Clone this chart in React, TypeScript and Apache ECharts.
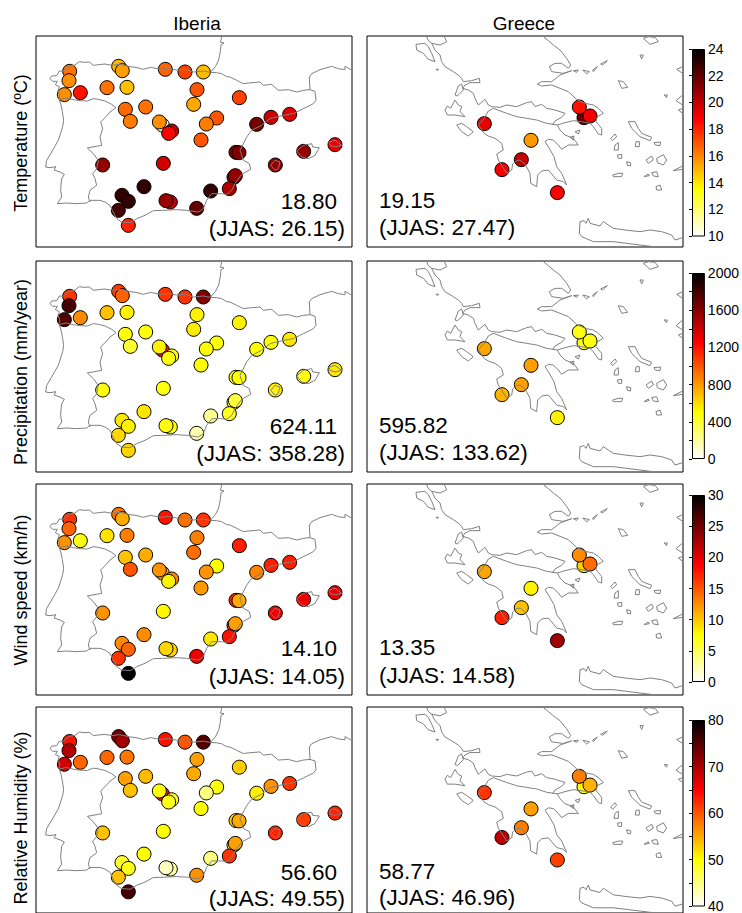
import React, { useEffect, useRef } from "react";
import * as echarts from "echarts";

const FONT = "'Liberation Sans', Arial, sans-serif";
const HOT = ["#ffffff", "#ffff80", "#ffff00", "#ffaa00", "#ff5500", "#ff0000", "#aa0000", "#550000", "#000000"];

const columns = ["Iberia", "Greece"];
const rowLabels = ["Temperature (ºC)", "Precipitation (mm/year)", "Wind speed (km/h)", "Relative Humidity (%)"];
const scaleMin = [10, 0, 0, 40];
const scaleMax = [24, 2000, 30, 80];
const minorStep = [2, 200, 5, 5];
const majorStep = [2, 400, 5, 10];

const iberiaMeans = ["18.80", "624.11", "14.10", "56.60"];
const iberiaSummer = ["(JJAS: 26.15)", "(JJAS: 358.28)", "(JJAS: 14.05)", "(JJAS: 49.55)"];
const greeceMeans = ["19.15", "595.82", "13.35", "58.77"];
const greeceSummer = ["(JJAS: 27.47)", "(JJAS: 133.62)", "(JJAS: 14.58)", "(JJAS: 46.96)"];

// station locations, in map units of each panel
const iberiaStations = [
  [119, 184], [117, 212], [103, 254], [151, 248], [266, 169], [277, 182], [231, 233], [291, 232], [406, 178], [465, 186],
  [520, 186], [501, 239], [491, 283], [628, 263], [286, 298], [347, 291], [301, 334], [397, 345], [425, 363], [388, 336],
  [416, 370], [560, 324], [529, 342], [513, 390], [680, 343], [723, 322], [779, 313], [915, 404], [821, 424], [736, 465],
  [618, 427], [627, 428], [218, 465], [400, 460], [612, 502], [616, 497], [598, 536], [542, 543], [342, 530], [276, 556],
  [295, 574], [265, 601], [421, 576], [408, 572], [500, 595], [295, 646],
];
const iberiaTemperature = [16.4, 15.8, 15.8, 18.4, 15, 15.5, 16.4, 14.8, 16.7, 17.4, 14.9, 17, 15.3, 17.4, 16.6, 16.4, 16.2, 10.3, 20.1, 15.8, 18.8, 17, 16.2, 17, 21.6, 19.8, 19.3, 19.1, 21, 21, 21.6, 21.3, 21, 19.7, 20.6, 21, 20.4, 23, 23, 23, 23, 22.6, 20.1, 20.8, 21.9, 18.1];
const iberiaPrecipitation = [1100, 1800, 1750, 840, 1080, 960, 680, 540, 1100, 1100, 1620, 540, 560, 540, 480, 480, 400, 1200, 440, 540, 470, 470, 510, 500, 500, 480, 570, 570, 480, 540, 480, 480, 470, 470, 400, 380, 440, 220, 580, 570, 540, 620, 500, 470, 160, 620];
const iberiaWind = [16.5, 14.4, 12.3, 7, 13.8, 11.2, 8.7, 13.2, 18, 13.8, 16.5, 13.2, 14, 17.4, 10.2, 11.2, 15, 11.5, 13, 12.3, 8, 7.5, 12.3, 12, 13, 17.4, 17.4, 19.5, 19.5, 19.5, 17.4, 11.2, 12.3, 7.8, 17, 11.7, 18, 8.5, 12.6, 12.6, 14.4, 16.5, 9.5, 9.3, 19.5, 30];
const iberiaHumidity = [64, 69.6, 67.6, 59, 73, 70.8, 59, 58, 64, 60, 75, 55.6, 55, 53, 55.6, 54, 53.6, 64, 48, 50, 49, 49.5, 45, 50, 51, 56.4, 62, 63, 61.4, 63, 53, 55, 53.6, 50, 51, 55.6, 62, 45, 50, 48.5, 49, 53.6, 43.5, 42.5, 56.4, 76];

const greeceStations = [[373, 341], [513, 391], [484, 449], [426, 479], [592, 548], [672, 323], [658, 291], [690, 318]];
const greeceTemperature = [19.2, 15.6, 20, 19, 18.8, 21.9, 18.4, 19];
const greecePrecipitation = [760, 780, 780, 720, 540, 440, 460, 470];
const greeceWind = [11.4, 8, 10.2, 17.4, 22.8, 9.6, 12.6, 14];
const greeceHumidity = [62, 55.6, 57.6, 68.8, 61.2, 50, 57.6, 54.4];

const iberiaCoast = [
  // Atlantic France, north coast, Galicia, Portugal, south and east coast
  [[575, 78], [573, 92], [570, 96], [582, 99], [573, 104], [571, 125], [566, 150], [556, 170], [547, 180], [541, 187], [520, 183], [490, 186], [465, 178], [440, 180], [415, 175], [390, 178], [362, 172], [340, 178], [318, 172], [300, 170], [270, 163], [245, 166], [225, 162], [205, 164], [190, 166], [178, 156], [162, 157], [148, 155], [135, 165], [120, 168], [108, 175], [100, 184], [88, 183], [80, 197], [65, 198], [60, 206], [68, 214], [82, 214], [76, 224], [88, 230], [84, 242], [90, 255], [87, 266], [93, 285], [97, 305], [101, 331], [98, 350], [85, 391], [74, 410], [62, 431], [50, 451], [47, 471], [60, 473], [78, 470], [72, 480], [90, 486], [103, 493], [95, 506], [93, 525], [92, 541], [95, 561], [82, 581], [110, 579], [140, 581], [170, 579], [180, 571], [210, 571], [225, 576], [240, 586], [247, 601], [260, 626], [275, 636], [300, 638], [320, 626], [345, 616], [370, 602], [400, 601], [440, 599], [470, 601], [505, 606], [520, 596], [530, 571], [545, 551], [575, 551], [590, 553], [605, 541], [615, 521], [635, 493], [662, 478], [658, 461], [640, 451], [635, 436], [630, 421], [650, 381], [665, 361], [695, 346], [720, 326], [760, 316], [790, 311], [820, 296], [850, 281], [858, 271], [855, 244], [840, 239], [838, 201], [845, 191], [870, 179], [905, 169], [925, 176], [945, 179], [945, 169], [966, 181]],
  // Pyrenees
  [[541, 187], [560, 188], [575, 191], [590, 200], [600, 201], [620, 211], [640, 221], [655, 219], [690, 216], [700, 226], [725, 223], [745, 241], [775, 239], [800, 246], [820, 241], [840, 239]],
  // Portuguese border
  [[89, 268], [110, 264], [130, 269], [150, 272], [172, 273], [190, 266], [205, 268], [225, 273], [245, 283], [258, 293], [240, 306], [225, 323], [212, 336], [218, 356], [210, 381], [215, 406], [172, 414], [190, 431], [205, 451], [200, 476], [188, 491], [195, 506], [200, 526], [180, 541], [175, 561], [180, 576]],
  // Balearic islands
  [[800, 423], [820, 406], [845, 401], [848, 411], [868, 413], [855, 436], [835, 446], [815, 441], [800, 423]],
  [[897, 396], [915, 391], [935, 406], [915, 411], [900, 406], [897, 396]],
  [[722, 466], [735, 451], [750, 456], [745, 476], [735, 481], [722, 466]],
];

const greeceCoast = [
  // western mainland and north shore of the gulf
  [[200, 80], [205, 92], [215, 100], [225, 120], [240, 135], [245, 155], [255, 170], [280, 185], [295, 195], [305, 205], [310, 215], [335, 212], [358, 205], [360, 218], [330, 218], [315, 225], [308, 235], [325, 240], [340, 250], [345, 265], [355, 285], [375, 268], [385, 285], [395, 290], [420, 292], [440, 285], [470, 290], [500, 278], [515, 275], [525, 290], [545, 283], [560, 295], [585, 300], [615, 310], [605, 322], [585, 333], [577, 345]],
  [[240, 105], [260, 95], [252, 78]],
  [[215, 100], [240, 105]],
  // Peloponnese
  [[355, 345], [372, 370], [385, 378], [405, 385], [425, 400], [430, 420], [410, 432], [415, 450], [440, 490], [455, 480], [458, 462], [470, 452], [480, 450], [495, 462], [510, 490], [512, 520], [530, 530], [533, 495], [545, 483], [565, 480], [590, 510], [610, 515], [620, 525], [605, 490], [590, 470], [582, 440], [565, 410], [555, 395], [565, 388], [580, 390], [595, 405], [605, 418], [625, 405], [655, 405], [640, 385], [615, 375], [600, 360], [592, 345], [560, 340], [530, 330], [500, 325], [470, 320], [440, 310], [400, 295], [385, 303], [372, 325], [355, 345]],
  // Attica, Evia and the north-east mainland
  [[592, 345], [615, 338], [640, 332], [665, 335], [690, 340], [700, 350], [715, 372], [725, 375], [725, 355], [708, 335], [712, 320], [730, 310], [715, 295], [700, 285], [675, 280], [650, 268], [625, 245], [600, 235], [575, 225], [545, 228], [532, 222], [545, 215], [575, 215], [600, 195], [635, 182], [610, 190], [575, 185], [568, 170], [585, 160], [605, 160], [625, 175], [632, 165], [620, 145], [600, 120], [580, 105], [565, 92], [550, 80]],
  // islands of the Ionian sea
  [[168, 103], [195, 100], [205, 110], [215, 130], [225, 155], [205, 148], [190, 130], [170, 120], [168, 103]],
  [[255, 300], [262, 288], [272, 295], [285, 270], [295, 285], [305, 290], [300, 305], [315, 320], [285, 315], [262, 315], [255, 300]],
  [[285, 255], [295, 228], [305, 222], [310, 240], [292, 258], [285, 255]],
  [[290, 345], [305, 340], [320, 350], [340, 365], [325, 378], [305, 365], [290, 345]],
  [[228, 177], [236, 178], [232, 182], [228, 177]],
  // islands of the Aegean
  [[850, 85], [865, 80], [885, 82], [895, 95], [870, 103], [850, 85]],
  [[840, 135], [850, 135], [845, 147], [840, 135]],
  [[775, 212], [790, 215], [803, 232], [785, 235], [775, 212]],
  [[805, 335], [825, 335], [835, 355], [845, 370], [875, 382], [870, 392], [840, 380], [815, 355], [805, 335]],
  [[752, 385], [765, 372], [770, 380], [758, 392], [752, 385]],
  [[765, 405], [775, 398], [775, 420], [762, 420], [765, 405]],
  [[828, 395], [838, 395], [838, 410], [826, 410], [828, 395]],
  [[882, 398], [902, 396], [900, 407], [886, 405], [882, 398]],
  [[772, 435], [785, 433], [785, 445], [775, 445], [772, 435]],
  [[800, 455], [812, 458], [812, 468], [802, 466], [800, 455]],
  [[858, 450], [875, 438], [880, 450], [865, 460], [858, 450]],
  [[890, 445], [910, 434], [920, 450], [910, 465], [892, 458], [890, 445]],
  [[875, 488], [890, 485], [895, 500], [880, 498], [875, 488]],
  [[852, 500], [865, 492], [868, 497], [852, 500]],
  [[758, 495], [775, 490], [788, 490], [785, 500], [760, 500], [758, 495]],
  [[888, 530], [900, 525], [905, 540], [890, 540], [888, 530]],
  [[940, 482], [968, 468], [968, 478], [940, 482]],
  [[968, 170], [950, 178], [968, 190]],
  [[912, 255], [922, 255], [920, 263], [912, 255]],
  [[968, 255], [948, 272], [968, 285]],
  [[968, 295], [955, 300], [968, 310]],
  [[640, 182], [655, 180], [650, 187], [640, 182]],
  [[668, 180], [688, 185], [680, 192], [668, 180]],
  [[698, 180], [712, 170], [700, 185], [698, 180]],
  [[722, 162], [742, 152], [728, 165], [722, 162]],
  [[645, 365], [660, 360], [655, 372], [645, 365]],
  [[630, 382], [642, 378], [640, 390], [630, 382]],
  // Crete
  [[658, 670], [660, 635], [672, 632], [678, 640], [685, 625], [690, 640], [720, 648], [730, 635], [745, 645], [760, 655], [795, 660], [840, 665], [870, 660], [905, 665], [935, 675], [945, 690], [968, 683]],
  [[658, 670], [665, 680], [700, 695], [760, 695], [800, 700], [840, 705], [880, 710]],
];

const CELL_W = 316;
const CELL_H = 211;
const panelLeft = [36, 367];
const panelTop = [36, 261, 484, 707];
const barTop = [49, 273, 495, 720];
const barHeight = [187, 186, 187, 187];
const titleCenter = [197, 524];
const labelCenter = [143, 372, 590, 818];

const iberiaValues = [iberiaTemperature, iberiaPrecipitation, iberiaWind, iberiaHumidity];
const greeceValues = [greeceTemperature, greecePrecipitation, greeceWind, greeceHumidity];

function buildOption() {
  const grid: any[] = [];
  const xAxis: any[] = [];
  const yAxis: any[] = [];
  const series: any[] = [];
  const visualMap: any[] = [];
  const graphic: any[] = [];

  const addPanel = (col: number, row: number, stations: number[][], values: number[], coast: number[][][]) => {
    const gridIndex = grid.length;
    const axisX = col === 0 ? [18, 966] : [21, 969];
    grid.push({ left: panelLeft[col], top: panelTop[row], width: CELL_W, height: CELL_H, show: true, borderColor: "#000", borderWidth: 1, backgroundColor: "#fff" });
    xAxis.push({ gridIndex, type: "value", min: axisX[0], max: axisX[1], show: false });
    yAxis.push({ gridIndex, type: "value", min: 78, max: 711, inverse: true, show: false });
    const scatterIndex = series.length;
    series.push({
      type: "scatter", xAxisIndex: gridIndex, yAxisIndex: gridIndex, symbolSize: 14, z: 3,
      itemStyle: { borderColor: "#000", borderWidth: 1, opacity: 1 },
      data: stations.map((p, i) => [p[0], p[1], values[i]]), encode: { x: 0, y: 1 },
      silent: true,
    });
    visualMap.push({ show: false, type: "continuous", seriesIndex: scatterIndex, dimension: 2, min: scaleMin[row], max: scaleMax[row], inRange: { color: HOT } });
    series.push({
      type: "lines", coordinateSystem: "cartesian2d", xAxisIndex: gridIndex, yAxisIndex: gridIndex, polyline: true, z: 4, silent: true,
      lineStyle: { color: "#808080", width: 1, opacity: 1 },
      data: coast.map((coords) => ({ coords })),
    });
  };

  const addColorbar = (row: number) => {
    const gridIndex = xAxis.length;
    grid.push({ left: 692, top: barTop[row], width: 13, height: barHeight[row], show: false });
    xAxis.push({ gridIndex, type: "category", data: ["scale"], show: false });
    const left = yAxis.length;
    const common = { gridIndex, type: "value", min: scaleMin[row], max: scaleMax[row], splitLine: { show: false } };
    yAxis.push({
      ...common, position: "left", interval: minorStep[row],
      axisLine: { show: false }, axisLabel: { show: false },
      axisTick: { show: true, length: 3, lineStyle: { color: "#000", width: 1 } },
    });
    yAxis.push({
      ...common, position: "right", interval: majorStep[row],
      axisLine: { show: false }, axisTick: { show: false },
      axisLabel: { show: true, margin: 3, fontFamily: FONT, fontSize: 14, color: "#000", formatter: (v: number) => String(v) },
    });
    series.push({
      type: "bar", xAxisIndex: gridIndex, yAxisIndex: left, barWidth: "100%", silent: true,
      data: [scaleMax[row]],
      itemStyle: {
        borderColor: "#000", borderWidth: 1,
        color: {
          type: "linear", x: 0, y: 0, x2: 0, y2: 1,
          colorStops: HOT.map((_, i) => ({ offset: i / (HOT.length - 1), color: HOT[HOT.length - 1 - i] })),
        },
      },
    });
  };

  rowLabels.forEach((_, row) => {
    addPanel(0, row, iberiaStations, iberiaValues[row], iberiaCoast);
    addPanel(1, row, greeceStations, greeceValues[row], greeceCoast);
  });
  rowLabels.forEach((_, row) => addColorbar(row));

  const meanCenter = [201, 426, 648, 872];
  const summerCenter = [228, 453, 676, 898];
  const text = (value: string, x: number, y: number, align: string, fontSize = 22.5, rotation = 0) => ({
    type: "text", x, y, rotation, silent: true, z: 10,
    style: { text: value, x: 0, y: 0, fontFamily: FONT, fontSize, fill: "#000", align, verticalAlign: "middle" },
  });
  columns.forEach((name, col) => graphic.push(text(name, titleCenter[col], 23, "center", 19)));
  rowLabels.forEach((name, row) => {
    graphic.push(text(name, 21, labelCenter[row], "center", 18, Math.PI / 2));
    graphic.push(text(iberiaMeans[row], 337, meanCenter[row], "right"));
    graphic.push(text(iberiaSummer[row], 345, summerCenter[row], "right"));
    graphic.push(text(greeceMeans[row], 379, meanCenter[row] - 1, "left"));
    graphic.push(text(greeceSummer[row], 379, summerCenter[row] - 1, "left"));
  });

  return { animation: false, backgroundColor: "#fff", grid, xAxis, yAxis, series, visualMap, graphic: { elements: graphic } };
}

export default function App() {
  const ref = useRef<HTMLDivElement>(null);
  useEffect(() => {
    const chart = echarts.init(ref.current!, undefined, { renderer: "svg" });
    chart.setOption(buildOption() as any);
    return () => chart.dispose();
  }, []);
  return <div ref={ref} style={{ position: "absolute", left: 0, top: 0, width: 742, height: 913 }} />;
}
